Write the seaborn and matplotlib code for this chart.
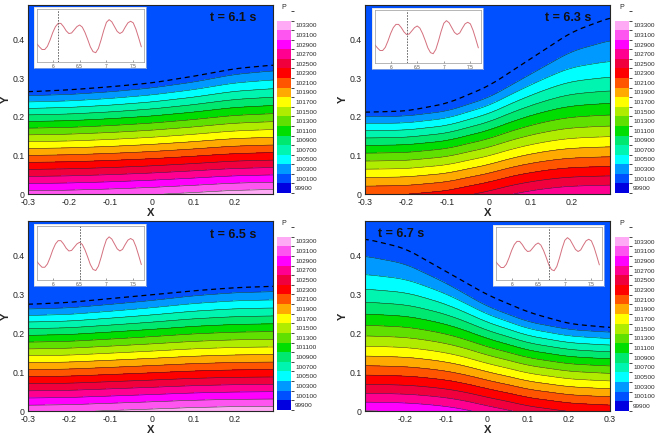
import numpy as np
import pandas as pd
import matplotlib
matplotlib.use("Agg")
import matplotlib.pyplot as plt
import matplotlib.ticker as mticker
from matplotlib.colors import ListedColormap, BoundaryNorm
from matplotlib.cm import ScalarMappable
import seaborn as sns

sns.set_style("ticks")
plt.rcParams['font.family'] = ['Liberation Sans', 'DejaVu Sans']

# ---- data ----
titles = ["t = 6.1 s", "t = 6.3 s", "t = 6.5 s", "t = 6.7 s"]
t_now = [6.1, 6.3, 6.5, 6.7]

x_pts = [-0.3, -0.2, -0.1, 0.0, 0.1, 0.2, 0.3]
# free surface (dashed line)
surf_61 = [0.265, 0.270, 0.278, 0.288, 0.305, 0.325, 0.335]
surf_63 = [0.212, 0.215, 0.235, 0.280, 0.350, 0.420, 0.460]
surf_65 = [0.275, 0.280, 0.290, 0.300, 0.310, 0.318, 0.322]
surf_67 = [0.445, 0.420, 0.360, 0.300, 0.255, 0.225, 0.215]
# height of the 100200 Pa contour (top of the coloured bands)
ptop_61 = [0.255, 0.258, 0.265, 0.275, 0.290, 0.310, 0.320]
ptop_63 = [0.200, 0.202, 0.215, 0.250, 0.310, 0.370, 0.400]
ptop_65 = [0.263, 0.266, 0.275, 0.285, 0.297, 0.305, 0.308]
ptop_67 = [0.400, 0.380, 0.330, 0.270, 0.230, 0.210, 0.203]
# pressure gradient (Pa/m) and depth decay of the wave signal
head_grad = [10700, 8600, 10700, 9000]
decay_k = [6.0, 5.5, 6.0, 5.5]

surfs = [surf_61, surf_63, surf_65, surf_67]
ptops = [ptop_61, ptop_63, ptop_65, ptop_67]

# inset time series (normalised elevation)
sig_t = [5.70, 5.75, 5.80, 5.85, 5.90, 5.95, 6.00, 6.05, 6.10, 6.15,
         6.20, 6.25, 6.30, 6.35, 6.40, 6.45, 6.50, 6.55, 6.60, 6.65,
         6.70, 6.75, 6.80, 6.85, 6.90, 6.95, 7.00, 7.05, 7.10, 7.15,
         7.20, 7.25, 7.30, 7.35, 7.40, 7.45, 7.50, 7.55, 7.60, 7.65]
sig_v = [0.35, 0.29, 0.24, 0.24, 0.30, 0.42, 0.56, 0.67, 0.73, 0.73,
         0.67, 0.59, 0.54, 0.55, 0.61, 0.67, 0.70, 0.66, 0.56, 0.43,
         0.29, 0.20, 0.18, 0.26, 0.42, 0.60, 0.75, 0.80, 0.76, 0.67,
         0.58, 0.54, 0.57, 0.66, 0.74, 0.77, 0.74, 0.62, 0.46, 0.29]

levels = np.arange(99800, 103601, 200)
cbar_ticks = np.arange(99900, 103301, 200)
band_colors = ['#0000e0', '#0050ff', '#0099ff', '#00ffff', '#00f5b0',
               '#00e870', '#00dd00', '#60e000', '#b0ec00', '#ffff00',
               '#ffaa00', '#ff5500', '#ff0000', '#f0003c', '#ff0090',
               '#ff00ff', '#ff55f0', '#ffaaf5', '#ffffff']
cmap = ListedColormap(band_colors)
norm = BoundaryNorm(levels, cmap.N)

# ---- layout (pixel boxes) ----
W, H = 662, 436
main_boxes = [(28, 5, 273, 194), (365, 5, 610, 194),
              (28, 221, 273, 411), (365, 221, 610, 411)]
cbar_boxes = [(277, 11, 291, 193), (615, 11, 629, 193),
              (277, 227, 291, 410), (615, 227, 629, 411)]
inset_boxes = [(34, 7, 146, 68), (372, 8, 483, 69),
               (34, 224, 146, 286), (493, 225, 604, 286)]
title_pos = [(0.837, 0.93), (0.83, 0.93), (0.837, 0.928), (0.147, 0.93)]
xlims = [(-0.3, 0.293), (-0.3, 0.293), (-0.3, 0.293), (-0.297, 0.3)]


def box(x0, y0, x1, y1):
    return [x0 / W, 1 - y1 / H, (x1 - x0) / W, (y1 - y0) / H]


def smooth(v, n=31):
    pad = np.pad(v, n // 2, mode='edge')
    return np.convolve(pad, np.ones(n) / n, mode='valid')


xg = np.linspace(-0.3, 0.3, 301)
yg = np.linspace(0, 0.49, 246)
Xg, Yg = np.meshgrid(xg, yg)

fig = plt.figure(figsize=(6.62, 4.36), dpi=100)

for i in range(4):
    ax = fig.add_axes(box(*main_boxes[i]))
    ps = smooth(np.interp(xg, x_pts, ptops[i]))
    sf = smooth(np.interp(xg, x_pts, surfs[i]))
    h = ps.mean()
    a = ps - h
    k = decay_k[i]
    eff = h + a[None, :] * np.cosh(k * Yg) / np.cosh(k * ps[None, :])
    P = 100200 + head_grad[i] * (eff - Yg)
    P = np.maximum(P, 100100)

    ax.contourf(Xg, Yg, P, levels=levels, cmap=cmap, norm=norm)
    ax.contour(Xg, Yg, P, levels=levels[2:], colors='#222222', linewidths=0.35)
    df = pd.DataFrame({'x': xg, 'y': sf})
    sns.lineplot(data=df, x='x', y='y', ax=ax, color='k', lw=0.9,
                 linestyle=(0, (4, 3)), sort=False)

    lo, hi = xlims[i]
    xt = [v for v in [-0.3, -0.2, -0.1, 0, 0.1, 0.2, 0.3] if lo - 1e-9 <= v <= hi + 1e-9]
    ax.set_xticks(xt)
    ax.set_yticks([0, 0.1, 0.2, 0.3, 0.4])
    ax.set_xlim(lo, hi)
    ax.set_ylim(0, 0.49)
    ax.xaxis.set_major_formatter(mticker.FormatStrFormatter('%g'))
    ax.yaxis.set_major_formatter(mticker.FormatStrFormatter('%g'))
    ax.xaxis.set_minor_locator(mticker.MultipleLocator(0.02))
    ax.yaxis.set_minor_locator(mticker.MultipleLocator(0.02))
    ax.tick_params(which='major', direction='in', length=3, width=0.6,
                   labelsize=6.3, top=True, right=True)
    ax.tick_params(axis='x', which='major', pad=3)
    ax.tick_params(axis='y', which='major', pad=2.5)
    ax.tick_params(which='minor', direction='in', length=1.5, width=0.4,
                   top=True, right=True)
    ax.set_xlabel('X', fontsize=8, fontweight='bold', labelpad=0.5)
    ax.set_ylabel('Y', fontsize=8, fontweight='bold', labelpad=1)
    for s in ax.spines.values():
        s.set_linewidth(0.8)
    ax.text(*title_pos[i], titles[i], transform=ax.transAxes, ha='center',
            va='center', fontsize=9, fontweight='bold', color='#111111')

    # colorbar
    cax = fig.add_axes(box(*cbar_boxes[i]))
    cb = fig.colorbar(ScalarMappable(norm=norm, cmap=cmap), cax=cax,
                      boundaries=levels, ticks=cbar_ticks)
    cb.outline.set_visible(False)
    cb.ax.tick_params(length=0, labelsize=4.6, pad=3)
    cb.ax.set_yticklabels([str(v) for v in cbar_ticks])
    cax.set_title('P', fontsize=5, pad=1.5)

    # inset
    ib = inset_boxes[i]
    frame = fig.add_axes(box(*ib))
    frame.set_facecolor('white')
    frame.set_xticks([])
    frame.set_yticks([])
    for s in frame.spines.values():
        s.set_color('#d0d0d0')
        s.set_linewidth(0.4)
    ia = fig.add_axes(box(ib[0] + 2.7, ib[1] + 2, ib[2] - 2, ib[3] - 5.7))
    sig = pd.DataFrame({'t': sig_t, 'v': sig_v})
    sns.lineplot(data=sig, x='t', y='v', ax=ia, color='#d4707e', lw=0.7)
    ia.axvline(t_now[i], color='#555555', lw=0.6, linestyle=(0, (2, 1.5)))
    ia.set_xticks([6, 6.5, 7, 7.5])
    ia.set_xlim(5.7, 7.7)
    ia.set_ylim(0, 1)
    ia.xaxis.set_major_formatter(mticker.FormatStrFormatter('%g'))
    ia.set_yticks([])
    ia.set_xlabel('')
    ia.set_ylabel('')
    ia.tick_params(axis='x', direction='in', length=1.5, width=0.4,
                   labelsize=3.5, pad=1, colors='#555555')
    for s in ia.spines.values():
        s.set_color('#999999')
        s.set_linewidth(0.5)

fig.savefig('out.png', dpi=100)
